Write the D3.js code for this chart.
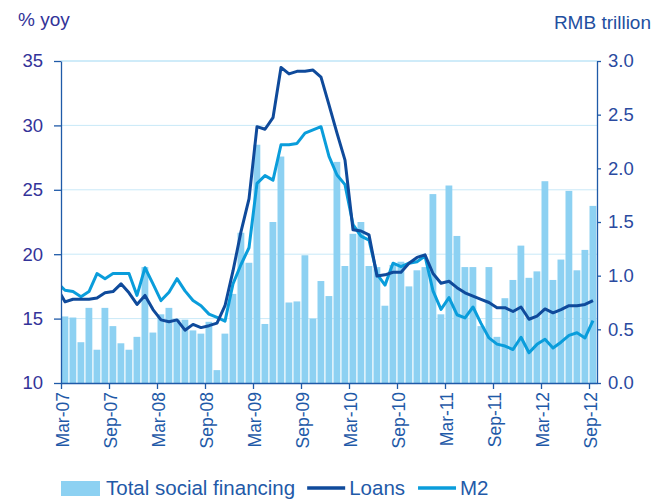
<!DOCTYPE html>
<meta charset="utf-8">
<style>
body { margin: 0; background: #fff; }
svg { font-family: "Liberation Sans", Arial, sans-serif; }
.grid line { stroke: #c9e9f8; stroke-width: 1; }
.axis path, .axis line { stroke: #1f5aa8; stroke-width: 1.3; }
.left text { fill: #333399; font-size: 18.5px; }
.right text { fill: #2a4aa0; font-size: 18.5px; }
.xlab { fill: #1f5aa8; font-size: 17.5px; }
.legend text { fill: #1f5aa8; font-size: 20.5px; }
</style>
<body>
<script src="https://cdn.jsdelivr.net/npm/d3@7"></script>
<script>
// monthly, Mar-07 .. Sep-12 (67 months)
var tickLabels = ["Mar-07","Sep-07","Mar-08","Sep-08","Mar-09","Sep-09",
                  "Mar-10","Sep-10","Mar-11","Sep-11","Mar-12","Sep-12"];

// Total social financing, RMB trillion (right axis), Mar-07 .. Sep-12
var financing = [0.62,0.61,0.38,0.70,0.31,0.70,0.53,0.37,0.31,0.43,
                 1.08,0.47,0.64,0.70,0.59,0.59,0.49,0.46,0.57,0.12,
                 0.46,0.83,1.40,1.12,2.22,0.55,1.50,2.11,0.75,0.76,
                 1.19,0.60,0.95,0.81,2.06,1.09,1.39,1.50,1.09,1.08,
                 0.72,1.10,1.13,0.90,1.05,1.08,1.76,0.64,1.84,1.37,
                 1.08,1.08,0.53,1.08,0.43,0.79,0.96,1.28,0.98,1.04,
                 1.88,0.96,1.15,1.79,1.05,1.24,1.65];

// % yoy (left axis), Feb-07 .. Sep-12 (first point falls just left of the axis)
var loans = [17.4,
             16.3,16.5,16.5,16.5,16.6,17.0,17.1,17.7,17.0,16.1,
             16.8,15.7,14.9,14.75,14.9,14.1,14.55,14.3,14.45,14.65,
             16.0,18.7,21.75,24.3,29.9,29.7,30.6,34.5,34.0,34.2,
             34.2,34.3,33.75,31.6,29.4,27.3,21.9,21.8,21.5,18.3,
             18.4,18.6,18.6,19.3,19.75,19.95,18.5,17.75,17.9,17.4,
             17.0,16.75,16.5,16.25,15.85,15.85,15.55,15.9,14.95,15.2,
             15.75,15.45,15.7,16.0,16.0,16.1,16.4];

var m2 = [17.8,
          17.2,17.1,16.7,17.1,18.5,18.1,18.5,18.5,18.5,16.8,
          18.95,17.7,16.4,17.05,18.1,17.15,16.4,16.0,15.35,15.1,
          14.8,17.7,19.2,20.5,25.5,26.1,25.75,28.5,28.5,28.6,
          29.4,29.65,29.9,27.6,26.15,25.4,22.3,21.4,21.1,18.45,
          17.6,19.3,19.03,19.3,19.42,19.86,17.15,15.72,16.63,15.3,
          15.05,15.9,14.63,13.5,13.02,12.87,12.6,13.55,12.35,13.0,
          13.4,12.72,13.17,13.7,13.9,13.5,14.84];

var width = 667, height = 499;
var plot = {left: 61, right: 597, top: 61, bottom: 383};

var svg = d3.select("body").append("svg")
    .attr("width", width)
    .attr("height", height);

// month index: 0 = left edge of Mar-07
var x = d3.scaleLinear().domain([0, financing.length]).range([plot.left, plot.right]);
var yL = d3.scaleLinear().domain([10, 35]).range([plot.bottom, plot.top]);
var yR = d3.scaleLinear().domain([0, 3]).range([plot.bottom, plot.top]);
var step = x(1) - x(0);

svg.append("clipPath").attr("id", "clip")
  .append("rect")
    .attr("x", plot.left).attr("y", 0)
    .attr("width", plot.right - plot.left).attr("height", height);

// gridlines
svg.append("g").attr("class", "grid")
  .selectAll("line")
  .data([15, 20, 25, 30, 35])
  .enter().append("line")
    .attr("x1", plot.left).attr("x2", plot.right)
    .attr("y1", function(d) { return yL(d); })
    .attr("y2", function(d) { return yL(d); })
    .style("stroke", function(d) { return d == 35 ? "#9fd8f3" : null; });

// bars
svg.append("g")
  .selectAll("rect")
  .data(financing)
  .enter().append("rect")
    .attr("x", function(d, i) { return x(i) + 0.5; })
    .attr("width", step - 1.2)
    .attr("y", function(d) { return yR(d); })
    .attr("height", function(d) { return yR(0) - yR(d); })
    .style("fill", "#8dd1f2");

// lines (first point is Feb-07, one month before the axis)
var line = function(y) {
  return d3.line()
    .x(function(d, i) { return x(i - 1) + step / 2; })
    .y(function(d) { return y(d); });
};

var lines = svg.append("g").attr("clip-path", "url(#clip)");
lines.append("path")
    .datum(m2)
    .attr("d", line(yL))
    .style("fill", "none")
    .style("stroke", "#0a9ddb")
    .style("stroke-width", 3)
    .style("stroke-linejoin", "round");
lines.append("path")
    .datum(loans)
    .attr("d", line(yL))
    .style("fill", "none")
    .style("stroke", "#0f4a9b")
    .style("stroke-width", 3)
    .style("stroke-linejoin", "round");

// axes
svg.append("g")
    .attr("class", "axis left")
    .attr("transform", "translate(" + plot.left + ",0)")
    .call(d3.axisLeft(yL).tickValues([10, 15, 20, 25, 30, 35]).tickSize(7).tickPadding(11).tickSizeOuter(0));

svg.append("g")
    .attr("class", "axis right")
    .attr("transform", "translate(" + plot.right + ",0)")
    .call(d3.axisRight(yR).tickValues([0, 0.5, 1, 1.5, 2, 2.5, 3])
          .tickFormat(d3.format(".1f")).tickSize(4).tickPadding(7).tickSizeOuter(0));

svg.append("g")
    .attr("class", "axis bottom")
    .attr("transform", "translate(0," + plot.bottom + ")")
    .call(d3.axisBottom(x).tickValues(d3.range(0, financing.length, 6))
          .tickSize(6).tickFormat("").tickSizeOuter(0));

svg.append("g")
  .selectAll("text")
  .data(tickLabels)
  .enter().append("text")
    .attr("class", "xlab")
    .attr("transform", function(d, i) {
      return "translate(" + (x(i * 6) + 2) + "," + (plot.bottom + 9) + ")rotate(-90)";
    })
    .attr("dy", "0.35em")
    .style("text-anchor", "end")
    .text(function(d) { return d; });

// axis titles
svg.append("text")
    .attr("x", 18).attr("y", 26)
    .style("font-size", "19px").style("fill", "#333399")
    .text("% yoy");
svg.append("text")
    .attr("x", 651).attr("y", 29)
    .style("font-size", "19px").style("fill", "#1f4fa0")
    .style("text-anchor", "end")
    .text("RMB trillion");

// legend
var legend = svg.append("g").attr("class", "legend");
legend.append("rect")
    .attr("x", 61).attr("y", 481).attr("width", 39).attr("height", 15)
    .style("fill", "#8dd1f2");
var t1 = legend.append("text").attr("x", 106).attr("y", 495).text("Total social financing");
var lx = 106 + t1.node().getComputedTextLength() + 12;
legend.append("line")
    .attr("x1", lx).attr("x2", lx + 38).attr("y1", 488).attr("y2", 488)
    .style("stroke", "#0f4a9b").style("stroke-width", 3.5);
var t2 = legend.append("text").attr("x", lx + 42).attr("y", 495).text("Loans");
var mx = lx + 42 + t2.node().getComputedTextLength() + 13;
legend.append("line")
    .attr("x1", mx).attr("x2", mx + 38).attr("y1", 488).attr("y2", 488)
    .style("stroke", "#0a9ddb").style("stroke-width", 3.5);
legend.append("text").attr("x", mx + 42).attr("y", 495).text("M2");
</script>
</body>
